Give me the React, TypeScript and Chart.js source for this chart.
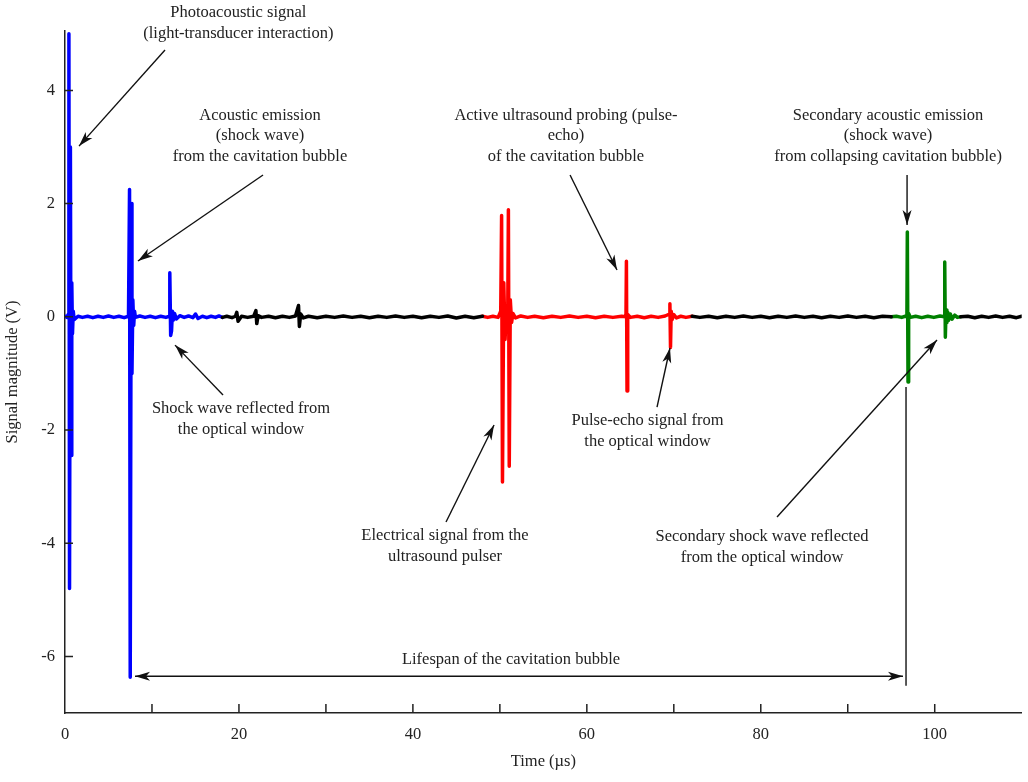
import React, { useEffect, useRef } from 'react';
import { Chart, registerables } from 'chart.js';

Chart.register(...registerables);

const FONT_FAMILY = '"Liberation Serif", "Times New Roman", serif';

// ---- Tick values ----
const xTickValues = [0, 10, 20, 30, 40, 50, 60, 70, 80, 90, 100];
const xLabelValues = [0, 20, 40, 60, 80, 100];
const yTickValues = [-6, -4, -2, 0, 2, 4];

// ---- Signal segments (time in µs, magnitude in V) ----
const blueTime = [0, 0.2, 0.4, 0.45, 0.52, 0.62, 0.7, 0.78, 0.86, 0.95, 1.05, 1.5, 2.0, 2.6, 3.2, 3.8, 4.4, 5.0, 5.6, 6.2, 6.8, 7.3, 7.42, 7.5, 7.62, 7.7, 7.8, 7.9, 8.0, 8.1, 8.6, 9.2, 9.8, 10.4, 11.0, 11.6, 12.0, 12.05, 12.15, 12.25, 12.35, 12.45, 12.6, 12.8, 13.2, 13.7, 14.2, 14.7, 15.0, 15.3, 15.8, 16.3, 16.8, 17.3, 17.7, 18.1];
const blueVolt = [0.01, -0.01, 0.05, 5.0, -4.8, 3.0, -2.45, 0.6, -0.3, 0.1, -0.05, 0.01, -0.01, 0.01, -0.015, 0.01, -0.01, 0.015, -0.01, 0.01, -0.015, 0.01, 2.25, -6.37, 2.0, -1.0, 0.3, -0.15, 0.1, -0.01, 0.015, -0.01, 0.01, -0.015, 0.01, -0.01, 0.01, 0.78, -0.33, -0.25, 0.1, -0.06, 0.06, -0.04, 0.02, -0.01, 0.015, -0.015, 0.05, -0.03, 0.01, -0.015, 0.01, -0.01, 0.015, -0.01];

const black1Time = [18.1, 18.6, 19.2, 19.6, 19.75, 19.9, 20.3, 21.0, 21.7, 21.95, 22.05, 22.2, 22.6, 23.4, 24.2, 25.0, 25.8, 26.5, 26.85, 26.95, 27.1, 27.4, 28, 29, 30, 31, 32, 33, 34, 35, 36, 37, 38, 39, 40, 41, 42, 43, 44, 45, 46, 47, 48];
const black1Volt = [-0.01, 0.01, -0.015, 0.01, 0.08, -0.08, 0.01, -0.01, 0.01, 0.11, -0.12, 0.02, -0.01, 0.01, -0.015, 0.01, -0.01, 0.015, 0.2, -0.17, 0.05, -0.02, 0.01, -0.015, 0.01, -0.01, 0.015, -0.01, 0.01, -0.015, 0.01, -0.01, 0.015, -0.01, 0.01, -0.015, 0.01, -0.01, 0.015, -0.02, 0.01, -0.015, 0.01];

const redTime = [48, 48.6, 49.2, 49.8, 50.1, 50.2, 50.3, 50.45, 50.6, 50.75, 50.9, 50.98, 51.08, 51.2, 51.35, 51.5, 51.8, 52.4, 53.2, 54, 55, 56, 57, 58, 59, 60, 61, 62, 63, 64, 64.5, 64.55, 64.62, 64.7, 65, 65.8, 66.6, 67.4, 68.2, 69, 69.5, 69.55, 69.62, 69.7, 69.8, 70, 70.3, 70.8, 71.4, 72.1];
const redVolt = [0.01, -0.01, 0.01, -0.01, 0.1, 1.79, -2.92, 0.6, -0.4, 0.2, -0.1, 1.89, -2.64, 0.3, -0.1, 0.06, -0.02, 0.015, -0.01, 0.01, -0.015, 0.01, -0.01, 0.015, -0.01, 0.01, -0.015, 0.01, -0.01, 0.01, 0.0, 0.98, -1.31, 0.04, -0.01, 0.01, -0.015, 0.01, -0.01, 0.015, 0.05, 0.23, -0.54, 0.1, -0.05, 0.04, -0.02, 0.01, -0.01, 0.01];

const black2Time = [72.1, 73, 74, 75, 76, 77, 78, 79, 80, 81, 82, 83, 84, 85, 86, 87, 88, 89, 90, 91, 92, 93, 94, 95];
const black2Volt = [0.01, -0.01, 0.01, -0.015, 0.01, -0.01, 0.015, -0.01, 0.01, -0.015, 0.01, -0.01, 0.015, -0.01, 0.01, -0.015, 0.01, -0.01, 0.015, -0.01, 0.01, -0.015, 0.01, 0.0];

const greenTime = [95, 95.6, 96.2, 96.7, 96.8, 96.85, 96.93, 97.0, 97.2, 97.8, 98.5, 99.2, 99.9, 100.6, 101.1, 101.15, 101.22, 101.3, 101.4, 101.5, 101.6, 101.8, 102.0, 102.3, 102.6, 103.0];
const greenVolt = [0, 0.01, -0.01, 0.015, 0, 1.5, -1.15, 0.06, -0.01, 0.01, -0.015, 0.01, -0.01, 0.015, 0, 0.97, -0.36, 0.12, -0.1, 0.08, -0.06, 0.05, -0.04, 0.03, -0.01, 0];

const black3Time = [103, 103.8, 104.6, 105.4, 106.2, 107, 107.8, 108.6, 109.4, 110];
const black3Volt = [0, 0.01, -0.015, 0.01, -0.01, 0.015, -0.01, 0.01, -0.015, 0.01];

// ---- Annotation texts (anchor in data units: µs, V) ----
const noteLines = [
  ['Photoacoustic signal', '(light-transducer interaction)'],
  ['Acoustic emission', '(shock wave)', 'from the cavitation bubble'],
  ['Shock wave reflected from', 'the optical window'],
  ['Active ultrasound probing (pulse-', 'echo)', 'of the cavitation bubble'],
  ['Pulse-echo signal from', 'the optical window'],
  ['Electrical signal from the', 'ultrasound pulser'],
  ['Secondary acoustic emission', '(shock wave)', 'from collapsing cavitation bubble)'],
  ['Secondary shock wave reflected', 'from the optical window'],
  ['Lifespan of the cavitation bubble'],
];
const noteX = [19.93, 22.42, 20.24, 57.6, 66.98, 43.69, 94.63, 80.14, 51.28];
const noteY = [5.37, 3.56, -1.63, 3.56, -1.84, -3.87, 3.56, -3.89, -6.06];

// ---- Arrows (from -> to, data units); double-headed flag ----
const arrowFromX = [11.5, 22.77, 18.17, 58.07, 68.07, 43.81, 96.82, 81.87, 8.05];
const arrowFromY = [4.713, 2.505, -1.38, 2.505, -1.595, -3.625, 2.505, -3.537, -6.35];
const arrowToX = [1.61, 8.39, 12.65, 63.47, 69.56, 49.33, 96.82, 100.26, 96.35];
const arrowToY = [3.016, 0.986, -0.5, 0.827, -0.551, -1.911, 1.622, -0.41, -6.35];
const arrowDouble = [false, false, false, false, false, false, false, false, true];

// Lifespan end marker (vertical line)
const markerX = [96.7, 96.7];
const markerY = [-1.24, -6.52];

const zip = (t: number[], v: number[]) => t.map((x, i) => ({ x, y: v[i] }));

function drawHead(ctx: CanvasRenderingContext2D, fx: number, fy: number, tx: number, ty: number) {
  const ang = Math.atan2(ty - fy, tx - fx);
  const len = 15;
  const half = 4.5;
  const notch = 11;
  const cos = Math.cos(ang);
  const sin = Math.sin(ang);
  const bx = tx - len * cos;
  const by = ty - len * sin;
  const nx = tx - notch * cos;
  const ny = ty - notch * sin;
  ctx.beginPath();
  ctx.moveTo(tx, ty);
  ctx.lineTo(bx - half * sin, by + half * cos);
  ctx.lineTo(nx, ny);
  ctx.lineTo(bx + half * sin, by - half * cos);
  ctx.closePath();
  ctx.fill();
}

const annotationPlugin = {
  id: 'annotations',
  afterDraw(chart: any) {
    const ctx: CanvasRenderingContext2D = chart.ctx;
    const xs = chart.scales.x;
    const ys = chart.scales.y;
    const area = chart.chartArea;
    ctx.save();
    // inward ticks
    ctx.strokeStyle = '#222';
    ctx.lineWidth = 1.5;
    ctx.beginPath();
    xTickValues.forEach((v) => {
      if (v === 0) return;
      const px = xs.getPixelForValue(v);
      ctx.moveTo(px, area.bottom);
      ctx.lineTo(px, area.bottom - 9);
    });
    yTickValues.forEach((v) => {
      const py = ys.getPixelForValue(v);
      ctx.moveTo(area.left, py);
      ctx.lineTo(area.left + 8, py);
    });
    ctx.stroke();

    // arrows
    ctx.strokeStyle = '#111';
    ctx.fillStyle = '#111';
    ctx.lineWidth = 1.4;
    for (let i = 0; i < arrowFromX.length; i++) {
      const fx = xs.getPixelForValue(arrowFromX[i]);
      const fy = ys.getPixelForValue(arrowFromY[i]);
      const tx = xs.getPixelForValue(arrowToX[i]);
      const ty = ys.getPixelForValue(arrowToY[i]);
      ctx.beginPath();
      ctx.moveTo(fx, fy);
      ctx.lineTo(tx, ty);
      ctx.stroke();
      drawHead(ctx, fx, fy, tx, ty);
      if (arrowDouble[i]) drawHead(ctx, tx, ty, fx, fy);
    }
    // marker line
    ctx.beginPath();
    ctx.moveTo(xs.getPixelForValue(markerX[0]), ys.getPixelForValue(markerY[0]));
    ctx.lineTo(xs.getPixelForValue(markerX[1]), ys.getPixelForValue(markerY[1]));
    ctx.stroke();

    // texts
    ctx.fillStyle = '#222';
    ctx.font = `16.5px ${FONT_FAMILY}`;
    ctx.textAlign = 'center';
    ctx.textBaseline = 'middle';
    noteLines.forEach((lines, i) => {
      const cx = xs.getPixelForValue(noteX[i]);
      const cy = ys.getPixelForValue(noteY[i]);
      lines.forEach((line, j) => {
        ctx.fillText(line, cx, cy + j * 20.5);
      });
    });
    ctx.restore();
  },
};

const lineStyle = (color: string) => ({
  borderColor: color,
  backgroundColor: color,
  borderWidth: 3.5,
  pointRadius: 0,
  tension: 0,
  borderJoinStyle: 'round' as const,
  borderCapStyle: 'round' as const,
  fill: false,
});

export default function App() {
  const ref = useRef<HTMLCanvasElement>(null);
  useEffect(() => {
    if (!ref.current) return;
    const font = { family: FONT_FAMILY, size: 16.5 };
    const chart = new Chart(ref.current, {
      type: 'line',
      data: {
        datasets: [
          { label: 'black1', data: zip(black1Time, black1Volt), ...lineStyle('#000000') },
          { label: 'black2', data: zip(black2Time, black2Volt), ...lineStyle('#000000') },
          { label: 'black3', data: zip(black3Time, black3Volt), ...lineStyle('#000000') },
          { label: 'blue', data: zip(blueTime, blueVolt), ...lineStyle('#0000ff') },
          { label: 'red', data: zip(redTime, redVolt), ...lineStyle('#ff0000') },
          { label: 'green', data: zip(greenTime, greenVolt), ...lineStyle('#008000') },
        ],
      },
      options: {
        animation: false,
        responsive: false,
        maintainAspectRatio: false,
        layout: { padding: { left: 0, top: 31, right: 6.3, bottom: 0 } },
        plugins: {
          legend: { display: false },
          tooltip: { enabled: false },
        },
        scales: {
          x: {
            type: 'linear',
            position: 'bottom',
            min: 0,
            max: 110,
            afterFit: (s: any) => { s.height = 69; },
            afterBuildTicks: (s: any) => { s.ticks = xTickValues.map((v) => ({ value: v })); },
            grid: { display: false, drawTicks: false },
            border: { display: true, color: '#222', width: 1.5 },
            ticks: {
              autoSkip: false,
              maxRotation: 0,
              padding: 12,
              color: '#222',
              font,
              callback: (v: any) => (xLabelValues.includes(Number(v)) ? String(v) : ''),
            },
            title: { display: true, text: 'Time (µs)', color: '#222', font, padding: { top: 0, bottom: 10.4 } },
          },
          y: {
            type: 'linear',
            min: -7,
            max: 5.05,
            afterFit: (s: any) => { s.width = 65; },
            afterBuildTicks: (s: any) => { s.ticks = yTickValues.map((v) => ({ value: v })); },
            grid: { display: false, drawTicks: false },
            border: { display: true, color: '#222', width: 1.5 },
            ticks: { padding: 10, color: '#222', font },
            title: { display: true, text: 'Signal magnitude (V)', color: '#222', font, padding: { top: 2.4, bottom: 0 } },
          },
        },
      },
      plugins: [annotationPlugin],
    } as any);
    return () => chart.destroy();
  }, []);
  return (
    <div style={{ position: 'fixed', left: 0, top: 0, width: 1028, height: 782, background: '#fff' }}>
      <canvas ref={ref} width={1028} height={782} style={{ width: 1028, height: 782, display: 'block' }} />
    </div>
  );
}
